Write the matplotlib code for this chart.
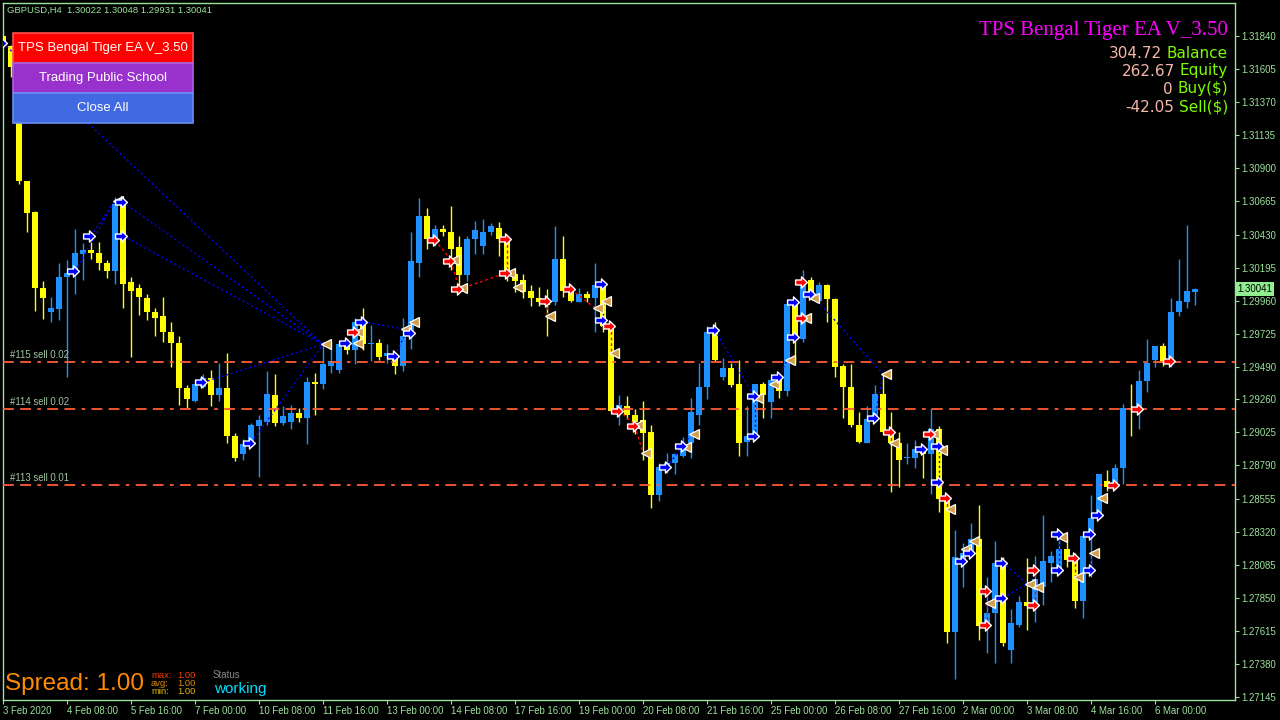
import numpy as np
import matplotlib
matplotlib.use("Agg")
import matplotlib.pyplot as plt
import matplotlib.transforms as mtransforms
from matplotlib.path import Path
from matplotlib.patches import Rectangle

SYMBOL = "GBPUSD,H4"

# GBPUSD H4 candles, 3 Feb 2020 -> 6 Mar 2020
opens = [1.3184, 1.3177, 1.3162, 1.3081, 1.3059, 1.3005, 1.2988, 1.2990, 1.3013, 1.3017,
         1.3029, 1.3032, 1.3030, 1.3023, 1.3017, 1.3065, 1.3009, 1.3005, 1.2998, 1.2988,
         1.2985, 1.2974, 1.2966, 1.2934, 1.2925, 1.2935, 1.2941, 1.2929, 1.2934, 1.2900,
         1.2887, 1.2893, 1.2907, 1.2910, 1.2929, 1.2909, 1.2910, 1.2916, 1.2913, 1.2938,
         1.2937, 1.2950, 1.2947, 1.2966, 1.2961, 1.2981, 1.2965, 1.2966, 1.2957, 1.2958,
         1.2950, 1.2971, 1.3023, 1.3056, 1.3039, 1.3047, 1.3045, 1.3034, 1.3014, 1.3040,
         1.3035, 1.3045, 1.3048, 1.3040, 1.3015, 1.3011, 1.3003, 1.2998, 1.2996, 1.2995,
         1.3026, 1.3003, 1.2995, 1.3001, 1.2998, 1.3006, 1.2978, 1.2918, 1.2921, 1.2915,
         1.2911, 1.2903, 1.2858, 1.2876, 1.2881, 1.2886, 1.2895, 1.2915, 1.2935, 1.2974,
         1.2942, 1.2948, 1.2937, 1.2896, 1.2900, 1.2937, 1.2924, 1.2941, 1.2932, 1.2993,
         1.2969, 1.3011, 1.2996, 1.3007, 1.2997, 1.2950, 1.2935, 1.2908, 1.2895, 1.2911,
         1.2930, 1.2903, 1.2895, 1.2884, 1.2884, 1.2892, 1.2887, 1.2905, 1.2855, 1.2761,
         1.2810, 1.2817, 1.2827, 1.2765, 1.2774, 1.2810, 1.2748, 1.2766, 1.2782, 1.2779,
         1.2793, 1.2810, 1.2804, 1.2820, 1.2812, 1.2783, 1.2829, 1.2842, 1.2868, 1.2864,
         1.2877, 1.2920, 1.2918, 1.2939, 1.2954, 1.2964, 1.2952, 1.2988, 1.2995, 1.30022]
highs = [1.3185, 1.3178, 1.3164, 1.3081, 1.3060, 1.3010, 1.2999, 1.3023, 1.3025, 1.3047,
         1.3037, 1.3038, 1.3038, 1.3025, 1.3070, 1.3067, 1.3013, 1.3008, 1.3001, 1.2991,
         1.2999, 1.2981, 1.2971, 1.2936, 1.2940, 1.2944, 1.2947, 1.2952, 1.2959, 1.2902,
         1.2898, 1.2909, 1.2915, 1.2946, 1.2944, 1.2921, 1.2922, 1.2920, 1.2942, 1.2945,
         1.2967, 1.2967, 1.2967, 1.2969, 1.2984, 1.2991, 1.2979, 1.2969, 1.2965, 1.2959,
         1.2984, 1.3045, 1.3069, 1.3062, 1.3050, 1.3050, 1.3063, 1.3042, 1.3042, 1.3053,
         1.3054, 1.3051, 1.3052, 1.3042, 1.3016, 1.3015, 1.3007, 1.3006, 1.3004, 1.3049,
         1.3042, 1.3004, 1.3005, 1.3003, 1.3023, 1.3008, 1.2978, 1.2929, 1.2928, 1.2919,
         1.2925, 1.2908, 1.2881, 1.2888, 1.2888, 1.2899, 1.2927, 1.2952, 1.2978, 1.2981,
         1.2955, 1.2952, 1.2954, 1.2921, 1.2937, 1.2938, 1.2941, 1.2942, 1.2996, 1.2995,
         1.3018, 1.3013, 1.3009, 1.3008, 1.2998, 1.2951, 1.2951, 1.2917, 1.2921, 1.2936,
         1.2945, 1.2917, 1.2903, 1.2895, 1.2897, 1.2893, 1.2920, 1.2907, 1.2856, 1.2833,
         1.2824, 1.2838, 1.2851, 1.2800, 1.2825, 1.2814, 1.2777, 1.2786, 1.2813, 1.2815,
         1.2844, 1.2818, 1.2827, 1.2827, 1.2817, 1.2830, 1.2858, 1.2873, 1.2876, 1.2880,
         1.2923, 1.2937, 1.2947, 1.2969, 1.2964, 1.2966, 1.2998, 1.3026, 1.3050, 1.30048]
lows = [1.3177, 1.3155, 1.3079, 1.3045, 1.2989, 1.2983, 1.2981, 1.2982, 1.2942, 1.3001,
        1.3011, 1.3026, 1.3018, 1.3012, 1.3008, 1.2991, 1.2956, 1.2986, 1.2982, 1.2971,
        1.2967, 1.2949, 1.2922, 1.2920, 1.2924, 1.2934, 1.2921, 1.2925, 1.2895, 1.2882,
        1.2883, 1.2893, 1.2871, 1.2908, 1.2907, 1.2908, 1.2905, 1.2910, 1.2894, 1.2915,
        1.2933, 1.2945, 1.2945, 1.2958, 1.2951, 1.2961, 1.2953, 1.2954, 1.2952, 1.2944,
        1.2946, 1.2962, 1.3013, 1.3033, 1.3035, 1.3042, 1.3018, 1.3002, 1.3010, 1.3029,
        1.3029, 1.3043, 1.3028, 1.3010, 1.3002, 1.2998, 1.2992, 1.2992, 1.2971, 1.2993,
        1.2999, 1.2995, 1.2995, 1.2995, 1.2974, 1.2974, 1.2917, 1.2908, 1.2912, 1.2901,
        1.2883, 1.2849, 1.2854, 1.2874, 1.2873, 1.2885, 1.2884, 1.2908, 1.2926, 1.2953,
        1.2940, 1.2935, 1.2886, 1.2886, 1.2899, 1.2913, 1.2913, 1.2927, 1.2928, 1.2952,
        1.2967, 1.3001, 1.2996, 1.2981, 1.2942, 1.2913, 1.2906, 1.2895, 1.2895, 1.2911,
        1.2902, 1.2860, 1.2864, 1.2880, 1.2877, 1.2870, 1.2859, 1.2846, 1.2753, 1.2727,
        1.2793, 1.2816, 1.2755, 1.2746, 1.2739, 1.2751, 1.2739, 1.2764, 1.2762, 1.2768,
        1.2780, 1.2796, 1.2803, 1.2807, 1.2778, 1.2771, 1.2800, 1.2842, 1.2861, 1.2864,
        1.2866, 1.2900, 1.2905, 1.2931, 1.2949, 1.2950, 1.2949, 1.2985, 1.2991, 1.29931]
closes = [1.3179, 1.3162, 1.3081, 1.3058, 1.3005, 1.2998, 1.2991, 1.3013, 1.3016, 1.3030,
          1.3032, 1.3030, 1.3023, 1.3017, 1.3065, 1.3008, 1.3003, 1.2999, 1.2988, 1.2984,
          1.2974, 1.2966, 1.2934, 1.2926, 1.2937, 1.2941, 1.2929, 1.2934, 1.2900, 1.2884,
          1.2894, 1.2908, 1.2911, 1.2930, 1.2909, 1.2914, 1.2916, 1.2913, 1.2938, 1.2937,
          1.2951, 1.2953, 1.2965, 1.2961, 1.2981, 1.2965, 1.2966, 1.2956, 1.2959, 1.2950,
          1.2971, 1.3024, 1.3056, 1.3040, 1.3047, 1.3045, 1.3033, 1.3014, 1.3040, 1.3046,
          1.3045, 1.3049, 1.3040, 1.3016, 1.3010, 1.3002, 1.2998, 1.2995, 1.2993, 1.3026,
          1.3003, 1.2996, 1.3001, 1.2998, 1.3007, 1.2978, 1.2918, 1.2922, 1.2915, 1.2910,
          1.2902, 1.2858, 1.2878, 1.2881, 1.2887, 1.2892, 1.2917, 1.2935, 1.2974, 1.2954,
          1.2948, 1.2936, 1.2895, 1.2900, 1.2937, 1.2929, 1.2940, 1.2932, 1.2994, 1.2970,
          1.3011, 1.3002, 1.3007, 1.2997, 1.2949, 1.2935, 1.2908, 1.2896, 1.2912, 1.2930,
          1.2903, 1.2895, 1.2883, 1.2885, 1.2891, 1.2887, 1.2905, 1.2855, 1.2761, 1.2814,
          1.2817, 1.2827, 1.2765, 1.2774, 1.2810, 1.2753, 1.2767, 1.2782, 1.2779, 1.2798,
          1.2811, 1.2815, 1.2820, 1.2812, 1.2783, 1.2829, 1.2842, 1.2873, 1.2864, 1.2877,
          1.2920, 1.2919, 1.2939, 1.2952, 1.2964, 1.2952, 1.2988, 1.2996, 1.3003, 1.30041]

date_labels = ["3 Feb 2020", "4 Feb 08:00", "5 Feb 16:00", "7 Feb 00:00", "10 Feb 08:00",
               "11 Feb 16:00", "13 Feb 00:00", "14 Feb 08:00", "17 Feb 16:00", "19 Feb 00:00",
               "20 Feb 08:00", "21 Feb 16:00", "25 Feb 00:00", "26 Feb 08:00", "27 Feb 16:00",
               "2 Mar 00:00", "3 Mar 08:00", "4 Mar 16:00", "6 Mar 00:00"]
BARS_PER_LABEL = 8
price_ticks = [1.31840, 1.31605, 1.31370, 1.31135, 1.30900, 1.30665, 1.30430, 1.30195,
               1.29960, 1.29725, 1.29490, 1.29260, 1.29025, 1.28790, 1.28555, 1.28320,
               1.28085, 1.27850, 1.27615, 1.27380, 1.27145]

# open sell orders
order_names = ["#115 sell 0.02", "#114 sell 0.02", "#113 sell 0.01"]
order_prices = [1.29525, 1.29190, 1.28650]

# trade history arrows (bar index, price)
buy_bars = [0, 9, 11, 15, 15, 25, 31, 43, 45, 49, 51, 75, 75, 83, 85, 89, 94, 94, 97, 99,
            99, 101, 109, 115, 117, 117, 120, 121, 125, 125, 132, 132, 136, 136, 137]
buy_prices = [1.3179, 1.3017, 1.3042, 1.3066, 1.3042, 1.2938, 1.2895, 1.2966, 1.2981, 1.2957,
              1.2973, 1.3008, 1.2982, 1.2878, 1.2893, 1.2975, 1.2928, 1.2900, 1.2942, 1.2995,
              1.2970, 1.3001, 1.2913, 1.2891, 1.2893, 1.2867, 1.2811, 1.2817, 1.2810, 1.2785,
              1.2830, 1.2805, 1.2830, 1.2805, 1.2844]
sell_bars = [44, 54, 56, 57, 63, 63, 68, 71, 76, 77, 79, 100, 100, 111, 116, 118, 123, 123,
             129, 129, 134, 139, 142, 146]
sell_prices = [1.2974, 1.3039, 1.3024, 1.3004, 1.3040, 1.3016, 1.2996, 1.3004, 1.2978, 1.2918,
               1.2907, 1.3009, 1.2984, 1.2903, 1.2901, 1.2856, 1.2790, 1.2766, 1.2805, 1.2780,
               1.2813, 1.2865, 1.2919, 1.2953]
close_bars = [14, 40, 44, 44, 50, 51, 56, 57, 63, 64, 68, 74, 75, 76, 79, 80, 85, 86, 94,
              96, 98, 100, 101, 110, 111, 116, 117, 118, 120, 121, 123, 128, 129, 132, 134,
              136, 137]
close_prices = [1.3067, 1.2965, 1.2974, 1.2966, 1.2976, 1.2981, 1.3025, 1.3005, 1.3016, 1.3006,
                1.2985, 1.2991, 1.2996, 1.2959, 1.2908, 1.2888, 1.2892, 1.2901, 1.2927, 1.2937,
                1.2954, 1.2984, 1.2998, 1.2944, 1.2895, 1.2901, 1.2890, 1.2848, 1.2820, 1.2825,
                1.2781, 1.2795, 1.2793, 1.2828, 1.2800, 1.2817, 1.2856]

# (open bar, open price, close bar, close price)
buy_links = [(0, 1.3179, 40, 1.2965), (15, 1.3066, 40, 1.2965), (15, 1.3042, 40, 1.2965),
             (9, 1.3017, 14, 1.3067), (11, 1.3042, 14, 1.3067), (25, 1.2938, 40, 1.2965),
             (31, 1.2895, 40, 1.2965), (45, 1.2981, 50, 1.2976), (49, 1.2957, 51, 1.2981),
             (75, 1.2982, 75, 1.2996), (83, 1.2878, 86, 1.2901), (89, 1.2975, 94, 1.2927),
             (94, 1.2900, 94, 1.2927), (97, 1.2942, 98, 1.2954), (101, 1.3001, 110, 1.2944),
             (109, 1.2913, 110, 1.2944), (117, 1.2867, 117, 1.2890), (125, 1.2810, 128, 1.2795),
             (125, 1.2785, 128, 1.2795), (132, 1.2805, 132, 1.2828), (136, 1.2805, 136, 1.2817)]
sell_links = [(54, 1.3039, 56, 1.3025), (56, 1.3024, 57, 1.3005), (57, 1.3004, 63, 1.3016),
              (63, 1.3040, 63, 1.3016), (68, 1.2996, 68, 1.2985), (71, 1.3004, 74, 1.2991),
              (76, 1.2978, 76, 1.2959), (77, 1.2918, 79, 1.2908), (79, 1.2907, 80, 1.2888),
              (111, 1.2903, 111, 1.2895), (118, 1.2856, 118, 1.2848), (123, 1.2766, 123, 1.2790),
              (129, 1.2780, 129, 1.2805), (134, 1.2813, 134, 1.2800)]

info_values = ["304.72", "262.67", "0", "-42.05"]
info_names = ["Balance", "Equity", "Buy($)", "Sell($)"]
spread_now = 1.00
spread_stats = [("max:", 1.00), ("avg:", 1.00), ("min:", 1.00)]

W, H = 1280, 720
FG = "#9BE39B"
YELLOW = "#FFFF00"
BLUE = "#1E90FF"
SANS = "Liberation Sans"


def fx(px):
    return px / W


def fy(py):
    return 1 - py / H


def main() -> None:
    fig = plt.figure(figsize=(W / 100, H / 100), dpi=100, facecolor="black")
    ax = fig.add_axes([fx(3), fy(700), fx(1232), 697 / H], facecolor="black")

    o, h, l, c = (np.array(a) for a in (opens, highs, lows, closes))
    x = np.arange(len(o))
    col = np.where(c > o, BLUE, YELLOW)
    ax.vlines(x, l, h, colors=col, lw=1.0, zorder=2)
    body = np.maximum(np.abs(c - o), 0.00007)
    ax.bar(x, body, bottom=np.minimum(o, c), width=0.64, color=col, lw=0, zorder=3)

    # open orders
    for name, p in zip(order_names, order_prices):
        ax.axhline(p, color="#FF5A36", lw=1.3, ls=(0, (6, 3.5, 6, 3.5, 2, 3.5)), zorder=4)
        ax.annotate(name, xy=(0, p), xycoords=("axes fraction", "data"),
                    xytext=(7, 2), textcoords="offset pixels", va="bottom", ha="left",
                    color="#A0C4A0", fontsize=6.9, family=SANS, zorder=5)

    for ob, op, cb, cp in buy_links:
        ax.plot([ob, cb], [op, cp], color="#0000FF", lw=1.0, ls=(0, (1.5, 2)), zorder=5)
    for ob, op, cb, cp in sell_links:
        ax.plot([ob, cb], [op, cp], color="#FF0000", lw=1.0, ls=(0, (2, 2)), zorder=5)

    # chunky MT4-style entry arrow
    arrow = Path([(-1, -0.42), (0.0, -0.42), (0.0, -0.95), (1, 0), (0.0, 0.95),
                  (0.0, 0.42), (-1, 0.42), (-1, -0.42)],
                 [Path.MOVETO] + [Path.LINETO] * 6 + [Path.CLOSEPOLY])
    ax.plot(np.array(close_bars) + 0.35, close_prices, ls="none", marker="<", ms=7,
            mfc="#D2A04C", mec="white", mew=0.9, zorder=6)
    ax.plot(np.array(buy_bars) - 0.25, buy_prices, ls="none", marker=arrow, ms=8.5,
            mfc="#0000FF", mec="white", mew=1.0, zorder=7)
    ax.plot(np.array(sell_bars) - 0.25, sell_prices, ls="none", marker=arrow, ms=8.5,
            mfc="#FF0000", mec="white", mew=1.0, zorder=7)

    ax.set_xlim(0, 154)
    ax.set_ylim(1.27124, 1.32075)
    for s in ax.spines.values():
        s.set_color(FG)
        s.set_linewidth(1)
    ax.yaxis.tick_right()
    ax.set_yticks(price_ticks)
    ax.set_yticklabels([f"{p:.5f}" for p in price_ticks])
    ax.set_xticks(np.arange(len(date_labels)) * BARS_PER_LABEL)
    ax.set_xticklabels(date_labels)
    ax.tick_params(colors=FG, labelcolor=FG, length=3, width=0.8, labelsize=6.9, pad=1.5)
    for t in ax.get_xticklabels():
        t.set_horizontalalignment("left")
        t.set_family(SANS)
    for t in ax.get_yticklabels():
        t.set_family(SANS)

    # current price box
    trans = mtransforms.blended_transform_factory(ax.transAxes, ax.transData)
    ax.text(1.0015, closes[-1], f"{closes[-1]:.5f}", transform=trans, va="center",
            ha="left", fontsize=6.9, family=SANS, color="black", zorder=10,
            bbox=dict(boxstyle="square,pad=0.22", fc="#90EE90", ec="none"), clip_on=False)

    # header
    head = f"{SYMBOL}  {opens[-1]:.5f} {highs[-1]:.5f} {lows[-1]:.5f} {closes[-1]:.5f}"
    fig.text(fx(7), fy(10), head, color=FG, fontsize=6.8, family=SANS, va="center")

    # EA panel buttons
    buttons = [("TPS Bengal Tiger EA V_3.50", "#FF0000", "#FF5050"),
               ("Trading Public School", "#9932CC", "#B060E0"),
               ("Close All", "#4169E1", "#6A8CF0")]
    for i, (txt, fc, ec) in enumerate(buttons):
        top = 33 + 30 * i
        fig.patches.append(Rectangle((fx(13), fy(top + 30)), fx(180), 30 / H, fc=fc, ec=ec,
                                     lw=1.2, transform=fig.transFigure, zorder=20))
        fig.text(fx(103), fy(top + 15), txt, color="white", fontsize=9.5, family=SANS,
                 ha="center", va="center", zorder=21)

    # account info, top right
    fig.text(fx(1228), fy(30), "TPS Bengal Tiger EA V_3.50", color="#FF00FF", fontsize=15,
             family="Liberation Serif", ha="right", va="center")
    renderer = fig.canvas.get_renderer()
    for i, (val, name) in enumerate(zip(info_values, info_names)):
        yy = fy(53 + 18 * i)
        t = fig.text(fx(1228), yy, name, color="#7CFC00", fontsize=11,
                     family="DejaVu Sans", ha="right", va="center")
        bb = t.get_window_extent(renderer=renderer)
        fig.text(fx(bb.x0 - 5), yy, val, color="#F4B8A8", fontsize=11,
                 family="DejaVu Sans", ha="right", va="center")

    # spread panel
    fig.text(fx(5), fy(684), f"Spread: {spread_now:.2f}", color="#FF8C00", fontsize=17.5,
             family=SANS, va="center")
    stat_cols = ["#FF3A00", "#E08A00", "#E0B800"]
    for i, ((lab, v), sc) in enumerate(zip(spread_stats, stat_cols)):
        yy = fy(676 + 7.5 * i)
        fig.text(fx(151), yy, lab, color=sc, fontsize=6.8, family=SANS, va="center")
        fig.text(fx(177), yy, f"{v:.2f}", color=sc, fontsize=6.8, family=SANS, va="center")
    fig.text(fx(213), fy(675), "Status", color="#8A8A8A", fontsize=6.9, family=SANS,
             va="center")
    fig.text(fx(214), fy(689), "working", color="#00DDFF", fontsize=11, family=SANS,
             va="center")

    fig.savefig("out.png", dpi=100, facecolor="black")
    plt.close(fig)


if __name__ == "__main__":
    main()
